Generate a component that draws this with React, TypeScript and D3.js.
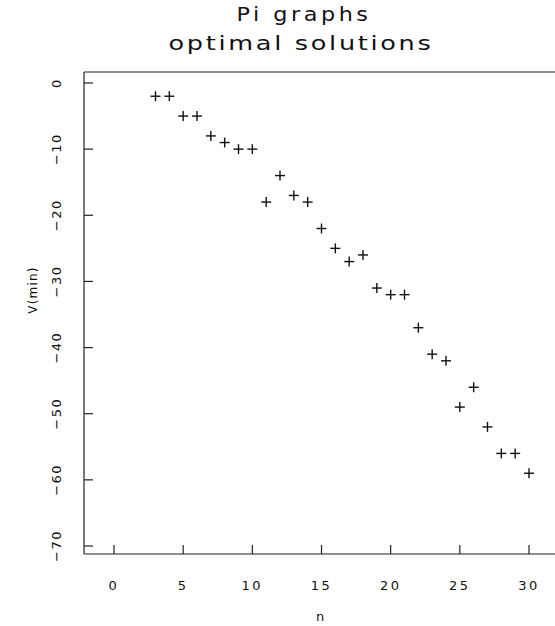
import React from "react";
import * as d3 from "d3";

const nValues = [3,4,5,6,7,8,9,10,11,12,13,14,15,16,17,18,19,20,21,22,23,24,25,26,27,28,29,30];
const vValues = [-2,-2,-5,-5,-8,-9,-10,-10,-18,-14,-17,-18,-22,-25,-27,-26,-31,-32,-32,-37,-41,-42,-49,-46,-52,-56,-56,-59];
const xTicks = [0,5,10,15,20,25,30];
const yTicks = [0,-10,-20,-30,-40,-50,-60,-70];
const titleLines = ["Pi graphs", "optimal solutions"];
const xLabel = "n";
const yLabel = "V(min)";

const W = 555, H = 626;
const left = 84, top = 72, bottom = 554, right = 556;
const font = "'DejaVu Sans', sans-serif";

export default function App() {
  const x = d3.scaleLinear().domain([0, 30]).range([114, 529]);
  const y = d3.scaleLinear().domain([0, -70]).range([83, 546]);
  const data = nValues.map((n, i) => ({ n, v: vValues[i] }));
  const s = 5;
  return (
    <svg width={W} height={H} style={{ position: "absolute", left: 0, top: 0, background: "#fff" }}>
      <rect width={W} height={H} fill="#fff" />
      <text x={304} y={21} fontFamily={font} fontSize={19} textAnchor="middle" textLength={135} lengthAdjust="spacingAndGlyphs" letterSpacing={3} fill="#111">{titleLines[0]}</text>
      <text x={301} y={50} fontFamily={font} fontSize={19} textAnchor="middle" textLength={265} lengthAdjust="spacingAndGlyphs" letterSpacing={2} fill="#111">{titleLines[1]}</text>
      <g stroke="#222" strokeWidth={1.2} fill="none">
        <line x1={left} y1={top} x2={right} y2={top} />
        <line x1={left} y1={top} x2={left} y2={bottom} />
        <line x1={left} y1={bottom} x2={right} y2={bottom} />
      </g>
      {yTicks.map((t) => (
        <g key={"y" + t}>
          <line x1={left} x2={left + 9} y1={y(t)} y2={y(t)} stroke="#222" strokeWidth={1.2} />
          <text transform={`translate(61,${y(t)}) rotate(-90)`} fontFamily={font} fontSize={13} textAnchor="middle" letterSpacing={1.5} fill="#111">{t === 0 ? "0" : "\u2212" + Math.abs(t)}</text>
        </g>
      ))}
      {xTicks.map((t) => (
        <g key={"x" + t}>
          <line x1={x(t)} x2={x(t)} y1={bottom} y2={bottom - 9} stroke="#222" strokeWidth={1.2} />
          <text x={x(t)} y={590} fontFamily={font} fontSize={13} textAnchor="middle" letterSpacing={2.5} fill="#111">{String(t)}</text>
        </g>
      ))}
      <text x={320} y={621} fontFamily={font} fontSize={13} textAnchor="middle" fill="#111">{xLabel}</text>
      <text transform={`translate(37,290) rotate(-90)`} fontFamily={font} fontSize={12} textAnchor="middle" letterSpacing={1.2} fill="#111">{yLabel}</text>
      <g stroke="#111" strokeWidth={1.4}>
        {data.map((d, i) => (
          <g key={i}>
            <line x1={x(d.n) - s} x2={x(d.n) + s} y1={y(d.v)} y2={y(d.v)} />
            <line x1={x(d.n)} x2={x(d.n)} y1={y(d.v) - s} y2={y(d.v) + s} />
          </g>
        ))}
      </g>
    </svg>
  );
}
